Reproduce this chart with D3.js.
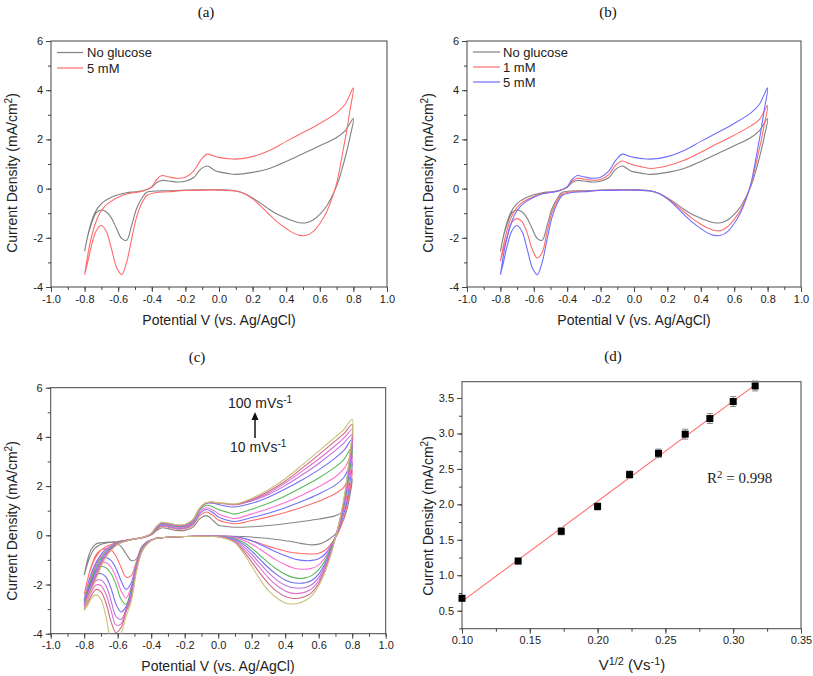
<!DOCTYPE html>
<html>
<head>
<meta charset="utf-8">
<script src="https://cdnjs.cloudflare.com/ajax/libs/d3/7.8.5/d3.min.js"></script>
<style>
body { margin: 0; background: #fff; }
svg { font-family: Arial, "Liberation Sans", sans-serif; }
</style>
</head>
<body>
<svg id="chart" width="813" height="676"></svg>
<script>
// ---- data ----
// potential grid: anodic sweep -0.8 -> 0.8, then cathodic sweep back to -0.8
var fwdV = [-0.8, -0.77, -0.74, -0.71, -0.68, -0.65, -0.6, -0.55, -0.5, -0.45, -0.4, -0.37, -0.34, -0.3, -0.25,
            -0.2, -0.15, -0.11, -0.07, -0.03, 0, 0.05, 0.1, 0.2, 0.3, 0.4, 0.5, 0.6, 0.7, 0.75, 0.8];
var revV = [0.78, 0.76, 0.74, 0.72, 0.7, 0.67, 0.64, 0.6, 0.56, 0.52, 0.48, 0.44, 0.4, 0.35, 0.3, 0.25, 0.2, 0.15, 0.1, 0.0,
            -0.1, -0.2, -0.3, -0.38, -0.43, -0.46, -0.49, -0.52, -0.55, -0.58, -0.61, -0.64, -0.67, -0.7, -0.73, -0.76, -0.78, -0.8];
var loopV = fwdV.concat(revV);

// panels (a) and (b), current density mA/cm2
var noGlucose = [-2.55, -1.6, -1.0, -0.68, -0.5, -0.38, -0.25, -0.17, -0.13, -0.08, 0.05, 0.25, 0.33, 0.31, 0.27, 0.3, 0.45, 0.78, 0.92, 0.76, 0.68, 0.62, 0.58, 0.66, 0.82, 1.1, 1.42, 1.74, 2.08, 2.35, 2.85,
    2.1, 1.5, 0.98, 0.5, 0.1, -0.35, -0.72, -1.05, -1.28, -1.39, -1.39, -1.31, -1.2, -1.05, -0.85, -0.6, -0.38, -0.2, -0.1, -0.05, -0.05, -0.06, -0.09, -0.1, -0.15, -0.4, -0.8, -1.5, -2.1, -2.02, -1.62, -1.2, -0.95, -0.87, -0.98, -1.45, -1.9, -2.55];
var glucose1mM = [-2.95, -1.95, -1.25, -0.85, -0.62, -0.48, -0.32, -0.2, -0.15, -0.09, 0.06, 0.3, 0.42, 0.39, 0.34, 0.37, 0.58, 0.95, 1.12, 1.02, 0.95, 0.88, 0.82, 0.93, 1.15, 1.48, 1.83, 2.17, 2.55, 2.8, 3.38,
    2.6, 1.9, 1.3, 0.7, 0.15, -0.4, -0.85, -1.25, -1.55, -1.7, -1.7, -1.6, -1.45, -1.22, -0.95, -0.66, -0.4, -0.2, -0.1, -0.06, -0.06, -0.07, -0.11, -0.14, -0.22, -0.5, -0.95, -1.75, -2.6, -2.82, -2.45, -1.8, -1.35, -1.22, -1.35, -1.95, -2.45, -2.95];
var glucose5mM = [-3.5, -2.3, -1.5, -1.0, -0.72, -0.55, -0.35, -0.22, -0.16, -0.1, 0.08, 0.38, 0.53, 0.48, 0.42, 0.46, 0.72, 1.15, 1.4, 1.32, 1.27, 1.22, 1.2, 1.3, 1.55, 1.92, 2.28, 2.65, 3.08, 3.42, 4.1,
    3.2, 2.35, 1.6, 0.85, 0.2, -0.45, -0.95, -1.42, -1.75, -1.9, -1.9, -1.8, -1.62, -1.37, -1.06, -0.72, -0.42, -0.2, -0.1, -0.06, -0.06, -0.08, -0.13, -0.17, -0.28, -0.6, -1.15, -2.05, -3.0, -3.5, -3.2, -2.45, -1.75, -1.5, -1.7, -2.35, -2.95, -3.5];

// panel (c), scan rates 10..100 mV/s
var scan10 = [-1.62, -0.95, -0.55, -0.4, -0.33, -0.29, -0.25, -0.2, -0.15, -0.1, 0.02, 0.18, 0.3, 0.27, 0.2, 0.2, 0.33, 0.68, 0.8, 0.6, 0.42, 0.36, 0.33, 0.35, 0.4, 0.47, 0.56, 0.66, 0.8, 1.0, 2.3,
    1.4, 0.85, 0.5, 0.25, 0.05, -0.12, -0.25, -0.36, -0.39, -0.36, -0.31, -0.26, -0.22, -0.17, -0.13, -0.1, -0.07, -0.05, -0.04, -0.03, -0.04, -0.05, -0.08, -0.14, -0.28, -0.5, -0.98, -1.02, -0.75, -0.45, -0.32, -0.28, -0.28, -0.3, -0.35, -0.6, -1.0, -1.62];
var scan20 = [-2.4, -1.55, -1.0, -0.68, -0.5, -0.4, -0.28, -0.2, -0.15, -0.1, 0.03, 0.22, 0.36, 0.33, 0.26, 0.27, 0.42, 0.8, 0.95, 0.8, 0.62, 0.52, 0.47, 0.6, 0.75, 0.93, 1.14, 1.38, 1.7, 1.95, 2.65,
    1.6, 0.95, 0.5, 0.15, -0.1, -0.38, -0.6, -0.73, -0.76, -0.75, -0.73, -0.7, -0.64, -0.55, -0.45, -0.33, -0.22, -0.12, -0.06, -0.03, -0.04, -0.05, -0.08, -0.14, -0.32, -0.6, -1.1, -1.65, -1.7, -1.3, -0.85, -0.6, -0.55, -0.6, -0.8, -1.3, -1.8, -2.4];
var scan30 = [-2.6, -1.8, -1.25, -0.88, -0.62, -0.47, -0.3, -0.21, -0.15, -0.09, 0.04, 0.25, 0.4, 0.37, 0.3, 0.31, 0.48, 0.88, 1.05, 0.92, 0.75, 0.62, 0.56, 0.72, 0.9, 1.12, 1.38, 1.68, 2.05, 2.35, 3.0,
    1.9, 1.15, 0.65, 0.25, -0.08, -0.45, -0.75, -0.95, -1.02, -1.03, -1.0, -0.93, -0.83, -0.69, -0.53, -0.37, -0.22, -0.12, -0.06, -0.03, -0.04, -0.05, -0.08, -0.14, -0.33, -0.62, -1.2, -1.95, -2.2, -1.85, -1.35, -1.02, -0.9, -0.93, -1.15, -1.65, -2.1, -2.6];
var scan40 = [-2.65, -1.9, -1.35, -0.95, -0.68, -0.5, -0.31, -0.21, -0.15, -0.09, 0.05, 0.27, 0.43, 0.4, 0.33, 0.34, 0.52, 0.95, 1.12, 1.02, 0.88, 0.75, 0.68, 0.87, 1.08, 1.33, 1.63, 1.97, 2.38, 2.7, 3.3,
    2.15, 1.3, 0.75, 0.3, -0.07, -0.5, -0.88, -1.2, -1.34, -1.38, -1.37, -1.31, -1.2, -1.02, -0.8, -0.57, -0.36, -0.2, -0.09, -0.03, -0.04, -0.05, -0.08, -0.14, -0.34, -0.64, -1.25, -2.1, -2.55, -2.25, -1.7, -1.3, -1.12, -1.12, -1.3, -1.8, -2.2, -2.65];
var scan50 = [-2.7, -2.0, -1.45, -1.03, -0.73, -0.53, -0.32, -0.22, -0.15, -0.09, 0.05, 0.29, 0.46, 0.43, 0.36, 0.37, 0.56, 1.02, 1.22, 1.15, 1.05, 0.95, 0.87, 1.06, 1.3, 1.6, 1.95, 2.33, 2.78, 3.08, 3.6,
    2.4, 1.5, 0.85, 0.35, -0.05, -0.55, -1.0, -1.4, -1.63, -1.73, -1.75, -1.7, -1.58, -1.38, -1.12, -0.82, -0.52, -0.28, -0.13, -0.04, -0.04, -0.05, -0.08, -0.14, -0.35, -0.66, -1.3, -2.2, -2.8, -2.6, -2.0, -1.55, -1.32, -1.27, -1.42, -1.9, -2.3, -2.7];
var scan60 = [-2.8, -2.1, -1.6, -1.15, -0.8, -0.57, -0.33, -0.22, -0.15, -0.09, 0.06, 0.31, 0.48, 0.45, 0.38, 0.39, 0.6, 1.08, 1.3, 1.3, 1.25, 1.18, 1.15, 1.3, 1.55, 1.88, 2.25, 2.66, 3.15, 3.45, 3.9,
    2.6, 1.6, 0.9, 0.38, -0.06, -0.62, -1.12, -1.58, -1.83, -1.93, -1.95, -1.92, -1.82, -1.6, -1.32, -0.98, -0.64, -0.36, -0.17, -0.05, -0.04, -0.05, -0.08, -0.14, -0.36, -0.68, -1.35, -2.3, -2.9, -3.12, -2.8, -2.15, -1.7, -1.55, -1.62, -2.05, -2.45, -2.8];
var scan70 = [-2.85, -2.2, -1.7, -1.22, -0.85, -0.6, -0.34, -0.22, -0.15, -0.08, 0.06, 0.32, 0.5, 0.47, 0.4, 0.41, 0.62, 1.1, 1.32, 1.33, 1.3, 1.27, 1.24, 1.4, 1.66, 2.02, 2.45, 2.92, 3.45, 3.75, 4.1,
    2.7, 1.7, 0.95, 0.4, -0.07, -0.68, -1.22, -1.72, -2.0, -2.12, -2.15, -2.12, -2.03, -1.82, -1.52, -1.15, -0.78, -0.45, -0.21, -0.05, -0.04, -0.05, -0.08, -0.14, -0.37, -0.7, -1.4, -2.4, -3.0, -3.42, -3.3, -2.65, -2.05, -1.82, -1.85, -2.2, -2.55, -2.85];
var scan80 = [-2.9, -2.28, -1.8, -1.3, -0.9, -0.63, -0.35, -0.23, -0.15, -0.08, 0.07, 0.33, 0.5, 0.48, 0.41, 0.42, 0.63, 1.1, 1.32, 1.34, 1.31, 1.28, 1.25, 1.43, 1.72, 2.12, 2.6, 3.1, 3.65, 3.95, 4.3,
    2.8, 1.75, 1.0, 0.42, -0.08, -0.74, -1.3, -1.85, -2.17, -2.31, -2.36, -2.35, -2.26, -2.04, -1.73, -1.33, -0.92, -0.54, -0.25, -0.06, -0.04, -0.05, -0.08, -0.14, -0.38, -0.71, -1.45, -2.5, -3.05, -3.6, -3.65, -3.05, -2.4, -2.05, -2.02, -2.35, -2.65, -2.9];
var scan90 = [-3.0, -2.35, -1.88, -1.38, -0.95, -0.66, -0.36, -0.23, -0.15, -0.08, 0.07, 0.34, 0.51, 0.49, 0.42, 0.43, 0.64, 1.1, 1.32, 1.34, 1.31, 1.29, 1.26, 1.46, 1.78, 2.2, 2.72, 3.27, 3.84, 4.13, 4.5,
    2.9, 1.82, 1.05, 0.44, -0.09, -0.8, -1.38, -1.96, -2.32, -2.49, -2.56, -2.56, -2.49, -2.28, -1.96, -1.55, -1.08, -0.63, -0.28, -0.06, -0.04, -0.05, -0.08, -0.14, -0.39, -0.72, -1.5, -2.6, -3.1, -3.75, -3.95, -3.5, -2.75, -2.3, -2.2, -2.5, -2.75, -3.0];
var scan100 = [-3.05, -2.4, -1.95, -1.45, -1.0, -0.7, -0.37, -0.24, -0.15, -0.08, 0.08, 0.35, 0.52, 0.5, 0.43, 0.44, 0.65, 1.1, 1.33, 1.35, 1.32, 1.3, 1.27, 1.5, 1.85, 2.3, 2.85, 3.42, 4.0, 4.3, 4.72,
    3.0, 1.9, 1.1, 0.45, -0.1, -0.85, -1.45, -2.05, -2.45, -2.65, -2.76, -2.79, -2.75, -2.55, -2.25, -1.8, -1.25, -0.72, -0.3, -0.06, -0.04, -0.05, -0.08, -0.14, -0.4, -0.74, -1.55, -2.7, -3.3, -4.0, -4.35, -4.2, -3.3, -2.6, -2.42, -2.6, -2.85, -3.05];
var scanSeries = [scan10, scan20, scan30, scan40, scan50, scan60, scan70, scan80, scan90, scan100];
var scanColors = ["#858585", "#ff6e6e", "#6e6eff", "#ff6ed2", "#5cb85c", "#7070e8", "#c070e0", "#e070d0", "#cc6a88", "#c8c07a"];

// panel (d): peak current vs square root of scan rate
var sqrtRate = [0.1, 0.1414, 0.1732, 0.2, 0.2236, 0.2449, 0.2646, 0.2828, 0.3, 0.3162];
var peakCurrent = [0.675, 1.2, 1.62, 1.97, 2.42, 2.72, 2.99, 3.21, 3.45, 3.67];
var peakErr = [0.03, 0.04, 0.05, 0.05, 0.05, 0.06, 0.07, 0.07, 0.07, 0.07];

// tick labels
var cvXTicks = [-1.0, -0.8, -0.6, -0.4, -0.2, 0.0, 0.2, 0.4, 0.6, 0.8, 1.0];
var cvYTicks = [-4, -2, 0, 2, 4, 6];
var dXTicks = [0.10, 0.15, 0.20, 0.25, 0.30, 0.35];
var dYTicks = [0.5, 1.0, 1.5, 2.0, 2.5, 3.0, 3.5];

var svg = d3.select("#chart");
var GRAY = "#808080", RED = "#ff6b6b", BLUE = "#6e6eff";
var SERIF = "'Liberation Serif', 'Times New Roman', serif";

function drawPanel(p) {
    var x = d3.scaleLinear().domain(p.xDom).range([p.l, p.r]);
    var y = d3.scaleLinear().domain(p.yDom).range([p.b, p.t]);
    svg.append("clipPath").attr("id", p.id).append("rect")
        .attr("x", p.l).attr("y", p.t).attr("width", p.r - p.l).attr("height", p.b - p.t);

    var ax = svg.append("g");
    ax.append("g").attr("transform", "translate(0," + p.b + ")")
        .call(d3.axisBottom(x).tickValues(p.xMinor).tickSize(3).tickFormat(""));
    ax.append("g").attr("transform", "translate(0," + p.b + ")")
        .call(d3.axisBottom(x).tickValues(p.xTicks).tickSize(5).tickPadding(3).tickFormat(p.xFmt));
    ax.append("g").attr("transform", "translate(" + p.l + ",0)")
        .call(d3.axisLeft(y).tickValues(p.yMinor).tickSize(3).tickFormat(""));
    ax.append("g").attr("transform", "translate(" + p.l + ",0)")
        .call(d3.axisLeft(y).tickValues(p.yTicks).tickSize(5).tickPadding(3).tickFormat(p.yFmt));
    ax.selectAll(".domain").remove();
    ax.selectAll("line").attr("stroke", "#444");
    ax.selectAll("text").attr("font-size", "11px").attr("fill", "#222")
        .attr("font-family", "Arial, 'Liberation Sans', sans-serif");

    svg.append("rect").attr("x", p.l).attr("y", p.t)
        .attr("width", p.r - p.l).attr("height", p.b - p.t)
        .attr("fill", "none").attr("stroke", "#444").attr("stroke-width", 1);

    var g = svg.append("g").attr("clip-path", "url(#" + p.id + ")");
    return {x: x, y: y, g: g};
}

// text with superscript parts: [[str, isSup], ...]
function richText(parent, parts, size, family) {
    var t = parent.append("text").attr("font-size", size + "px").attr("fill", "#222");
    if (family) t.style("font-family", family);
    var up = false;
    parts.forEach(function(pt) {
        var s = t.append("tspan").text(pt[0]);
        if (pt[1] && !up) { s.attr("dy", "-0.45em").attr("font-size", (size * 0.72) + "px"); up = true; }
        else if (pt[1]) { s.attr("font-size", (size * 0.72) + "px"); }
        else if (up) { s.attr("dy", (0.45 * 0.72) + "em"); up = false; }
    });
    return t;
}

function yTitle(x, y) {
    richText(svg, [["Current Density (mA/cm", false], ["2", true], [")", false]], 14)
        .attr("text-anchor", "middle").attr("transform", "translate(" + x + "," + y + ") rotate(-90)");
}
function xTitleCV(x, y) {
    svg.append("text").attr("x", x).attr("y", y).attr("text-anchor", "middle")
        .attr("font-size", "14px").attr("fill", "#222").text("Potential V (vs. Ag/AgCl)");
}
function panelTag(x, y, s) {
    svg.append("text").attr("x", x).attr("y", y).attr("text-anchor", "middle")
        .style("font-family", SERIF)
        .attr("font-size", "15px").attr("fill", "#111").text(s);
}
function legend(items, x0, x1, tx, ys) {
    items.forEach(function(it, i) {
        svg.append("line").attr("x1", x0).attr("x2", x1).attr("y1", ys[i]).attr("y2", ys[i])
            .attr("stroke", it[1]).attr("stroke-width", 1.2);
        svg.append("text").attr("x", tx).attr("y", ys[i]).attr("dy", "0.35em")
            .attr("font-size", "13px").attr("fill", "#222").text(it[0]);
    });
}

var fmt1 = function(d) { return d.toFixed(1); };
var fmt2 = function(d) { return d.toFixed(2); };
var fmtInt = function(d) { return String(d); };
var cvXMinor = d3.range(-10, 11).map(function(d) { return d / 10; });
var cvYMinor = d3.range(-4, 7);

function cvLine(pn) {
    return d3.line()
        .x(function(d, i) { return pn.x(loopV[i]); })
        .y(function(d) { return pn.y(d); })
        .curve(d3.curveCatmullRom.alpha(0.5));
}
function drawCurve(pn, data, color) {
    pn.g.append("path").attr("d", cvLine(pn)(data))
        .attr("fill", "none").attr("stroke", color).attr("stroke-width", 1.1);
}

// ---- (a) ----
var pa = drawPanel({id: "clipA", l: 51, r: 387, t: 41, b: 287, xDom: [-1, 1], yDom: [-4, 6],
    xTicks: cvXTicks, xMinor: cvXMinor, yTicks: cvYTicks, yMinor: cvYMinor, xFmt: fmt1, yFmt: fmtInt});
drawCurve(pa, noGlucose, GRAY);
drawCurve(pa, glucose5mM, RED);
legend([["No glucose", GRAY], ["5 mM", RED]], 57, 83, 87, [52.5, 68]);
panelTag(206, 17, "(a)");
yTitle(17, 173);
xTitleCV(219, 325);

// ---- (b) ----
var pb = drawPanel({id: "clipB", l: 467, r: 801, t: 41, b: 287, xDom: [-1, 1], yDom: [-4, 6],
    xTicks: cvXTicks, xMinor: cvXMinor, yTicks: cvYTicks, yMinor: cvYMinor, xFmt: fmt1, yFmt: fmtInt});
drawCurve(pb, noGlucose, GRAY);
drawCurve(pb, glucose1mM, RED);
drawCurve(pb, glucose5mM, BLUE);
legend([["No glucose", GRAY], ["1 mM", RED], ["5 mM", BLUE]], 473, 500, 503, [52, 67, 82]);
panelTag(608, 17, "(b)");
yTitle(433, 173);
xTitleCV(634, 325);

// ---- (c) ----
var pc = drawPanel({id: "clipC", l: 50.7, r: 385.7, t: 387.7, b: 633.7, xDom: [-1, 1], yDom: [-4, 6],
    xTicks: cvXTicks, xMinor: cvXMinor, yTicks: cvYTicks, yMinor: cvYMinor, xFmt: fmt1, yFmt: fmtInt});
scanSeries.forEach(function(s, i) { drawCurve(pc, s, scanColors[i]); });
panelTag(197, 362, "(c)");
yTitle(17, 521);
xTitleCV(218, 671);
richText(svg, [["100 mVs", false], ["-1", true]], 14).attr("x", 228).attr("y", 408);
richText(svg, [["10 mVs", false], ["-1", true]], 14).attr("x", 230).attr("y", 452);
svg.append("line").attr("x1", 255).attr("x2", 255).attr("y1", 438).attr("y2", 419)
    .attr("stroke", "#111").attr("stroke-width", 1.5);
svg.append("path").attr("d", "M251.5,420 L255,412 L258.5,420 Z").attr("fill", "#111");

// ---- (d) ----
var pd = drawPanel({id: "clipD", l: 462, r: 801, t: 381.7, b: 628.7, xDom: [0.1, 0.35], yDom: [0.246, 3.73],
    xTicks: dXTicks, xMinor: d3.range(0, 11).map(function(d) { return 0.1 + d * 0.025; }),
    yTicks: dYTicks, yMinor: d3.range(1, 15).map(function(d) { return d * 0.25; }),
    xFmt: fmt2, yFmt: fmt1});

// least-squares fit
var mx = d3.mean(sqrtRate), my = d3.mean(peakCurrent);
var sxy = d3.sum(sqrtRate, function(v, i) { return (v - mx) * (peakCurrent[i] - my); });
var sxx = d3.sum(sqrtRate, function(v) { return (v - mx) * (v - mx); });
var slope = sxy / sxx, icpt = my - slope * mx;
var xr = d3.extent(sqrtRate);
pd.g.append("line")
    .attr("x1", pd.x(xr[0])).attr("y1", pd.y(icpt + slope * xr[0]))
    .attr("x2", pd.x(xr[1])).attr("y2", pd.y(icpt + slope * xr[1]))
    .attr("stroke", RED).attr("stroke-width", 1.1);

var pts = sqrtRate.map(function(v, i) { return {x: v, y: peakCurrent[i], e: peakErr[i]}; });
var eb = svg.append("g").attr("stroke", "#8a8a8a").attr("stroke-width", 1);
eb.selectAll(".v").data(pts).enter().append("line")
    .attr("x1", function(d) { return pd.x(d.x); }).attr("x2", function(d) { return pd.x(d.x); })
    .attr("y1", function(d) { return pd.y(d.y - d.e); }).attr("y2", function(d) { return pd.y(d.y + d.e); });
[-1, 1].forEach(function(sgn) {
    eb.selectAll(".c" + sgn).data(pts).enter().append("line")
        .attr("x1", function(d) { return pd.x(d.x) - 3; }).attr("x2", function(d) { return pd.x(d.x) + 3; })
        .attr("y1", function(d) { return pd.y(d.y + sgn * d.e); }).attr("y2", function(d) { return pd.y(d.y + sgn * d.e); });
});
svg.append("g").selectAll("rect").data(pts).enter().append("rect")
    .attr("x", function(d) { return pd.x(d.x) - 3.5; }).attr("y", function(d) { return pd.y(d.y) - 3.5; })
    .attr("width", 7).attr("height", 7).attr("fill", "#000");

panelTag(613, 361, "(d)");
yTitle(433, 516);
richText(svg, [["V", false], ["1/2", true], [" (Vs", false], ["-1", true], [")", false]], 15)
    .attr("x", 632).attr("y", 670).attr("text-anchor", "middle");
richText(svg, [["R", false], ["2", true], [" = 0.998", false]], 15, SERIF)
    .attr("x", 707).attr("y", 483);
</script>
</body>
</html>
